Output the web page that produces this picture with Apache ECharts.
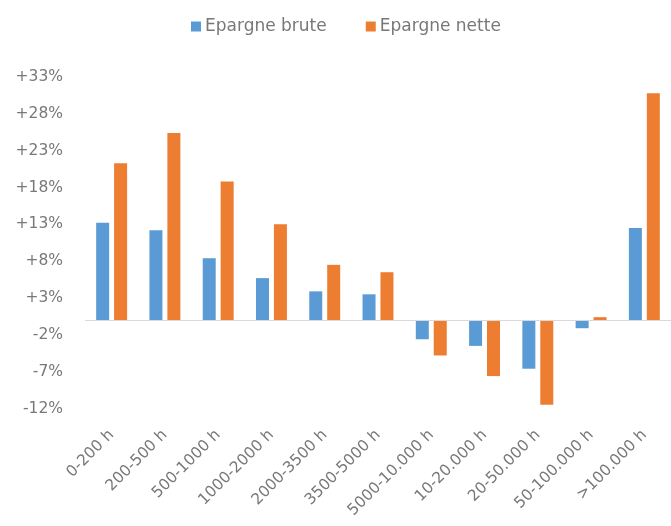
<!DOCTYPE html>
<html>
<head>
<meta charset="utf-8">
<script src="https://cdn.jsdelivr.net/npm/echarts@6/dist/echarts.min.js"></script>
<style>
  html, body { margin: 0; padding: 0; background: #fff; }
  #chart { width: 671px; height: 526px; }
</style>
</head>
<body>
<div id="chart"></div>
<script>
// Farm size classes (hours)
const categories = ["0-200 h", "200-500 h", "500-1000 h", "1000-2000 h", "2000-3500 h", "3500-5000 h",
  "5000-10.000 h", "10-20.000 h", "20-50.000 h", "50-100.000 h", ">100.000 h"];
// Change in savings, in percent
const epargneBrute = [13.2, 12.2, 8.4, 5.7, 3.9, 3.5, -2.6, -3.5, -6.6, -1.1, 12.5];
const epargneNette = [21.3, 25.4, 18.8, 13.0, 7.5, 6.5, -4.8, -7.6, -11.5, 0.4, 30.8];
// Value axis labels
const yTicks = [-12, -7, -2, 3, 8, 13, 18, 23, 28, 33];

const FONT = '"DejaVu Sans"';
const TEXT = '#787878';

const chart = echarts.init(document.getElementById('chart'));
chart.setOption({
  animation: false,
  backgroundColor: '#ffffff',
  textStyle: { fontFamily: FONT },
  legend: {
    left: 186, top: 13,
    itemWidth: 10, itemHeight: 10, itemGap: 39,
    icon: 'rect',
    textStyle: { color: TEXT, fontSize: 17, fontFamily: FONT, padding: [0, 0, 0, -1] },
    data: ['Epargne brute', 'Epargne nette']
  },
  grid: { left: 85, right: -3, top: 77, bottom: 117.5 },
  xAxis: {
    type: 'category',
    data: categories,
    axisLine: { show: false, onZero: false },
    axisTick: { show: false },
    axisLabel: { interval: 0, rotate: 45, margin: 24, color: TEXT, fontSize: 15.5, fontFamily: FONT }
  },
  yAxis: {
    type: 'value',
    min: -12, max: 33,
    axisLine: { show: false },
    axisTick: { show: false },
    splitLine: { show: false },
    axisLabel: {
      customValues: yTicks,
      margin: 22,
      color: TEXT, fontSize: 15.5, fontFamily: FONT,
      formatter: v => (v > 0 ? '+' : '') + v + '%'
    }
  },
  series: [
    {
      name: 'Epargne brute', type: 'bar', data: epargneBrute,
      barWidth: 13, barGap: '38%',
      itemStyle: { color: '#5B9BD5' },
      markLine: {
        silent: true, symbol: 'none', label: { show: false },
        lineStyle: { color: '#d9d9d9', width: 1, type: 'solid' },
        data: [{ yAxis: 0 }]
      }
    },
    {
      name: 'Epargne nette', type: 'bar', data: epargneNette,
      barWidth: 13, barGap: '38%',
      itemStyle: { color: '#ED7D31' }
    }
  ]
});
</script>
</body>
</html>
